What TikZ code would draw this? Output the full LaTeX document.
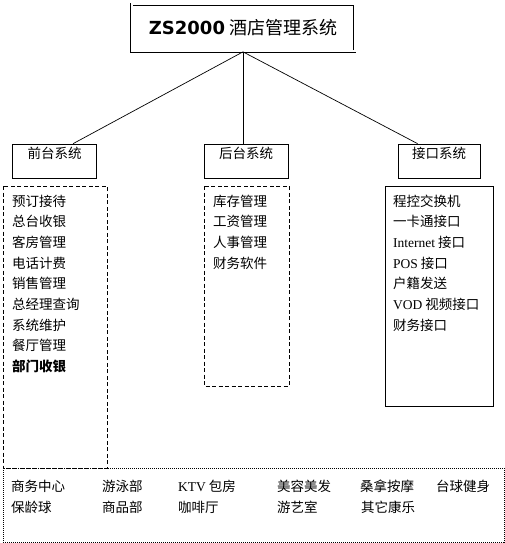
\documentclass[tikz,border=0pt]{standalone}
\usepackage{fontspec}
\setmainfont{Noto Sans CJK SC}
\newfontfamily\latim{Liberation Serif}
\newfontfamily\marca{DejaVu Sans}
\usepackage{tikz}
\usetikzlibrary{positioning}

\begin{document}
\begin{tikzpicture}[x=1pt, y=-1pt, every node/.style={font=\fontsize{13.5}{20.7}\selectfont}]
    \tikzstyle{sistema}=[rectangle, draw, line width=0.7pt, minimum width=84pt,
      text height=14pt, text depth=20pt, inner sep=0pt]
    \tikzstyle{item}=[anchor=base west, inner sep=0pt]
    \tikzstyle{tracos}=[line width=0.7pt, dash pattern=on 4pt off 2.5pt]
    \tikzstyle{pontos}=[line width=0.7pt, dash pattern=on 1pt off 1pt]
    \useasboundingbox (0,0) rectangle (505,543);
    % titulo
    \node[draw, line width=0.7pt, double, double distance=2pt, minimum width=223pt,
      minimum height=47pt, font=\fontsize{18}{20}\selectfont] (title) at (243,28)
      {{\marca\bfseries ZS2000} 酒店管理系统};
    % subsistemas
    \node[sistema] (front) at (54.5,161) {前台系统};
    \node[sistema] (back) at (246,161) {后台系统};
    \node[sistema, minimum width=82pt] (iface) at (439,161) {接口系统};
    \draw[line width=0.7pt] (title.south) -- (front.43);
    \draw[line width=0.7pt] (title.south) -- (title.south |- back.north);
    \draw[line width=0.7pt] (title.south) -- (iface.141);
    % caixas
    \draw[tracos] (3,186) rectangle (107,468);
    \draw[tracos] (204,186) rectangle (289,386);
    \draw[line width=0.7pt] (385,186) rectangle (493,406);
    \draw[pontos] (3,468) rectangle (504,542);
    % listas
    \foreach \t [count=\i from 0] in {预订接待, 总台收银, 客房管理, 电话计费, 销售管理,
      总经理查询, 系统维护, 餐厅管理, \textbf{部门收银}}
      \node[item] (f\i) at (12,206+20.7*\i) {\t};
    \foreach \t [count=\i from 0] in {库存管理, 工资管理, 人事管理, 财务软件}
      \node[item] (b\i) at (213,206+20.7*\i) {\t};
    \foreach \t [count=\i from 0] in {程控交换机, 一卡通接口, {\latim Internet} 接口,
      {\latim POS} 接口, 户籍发送, {\latim VOD} 视频接口, 财务接口}
      \node[item] (j\i) at (393,206+20.7*\i) {\t};
    %康乐
    \node[item] (k1) at (11,491) {商务中心};
    \node[item] (k2) at (102,491) {游泳部};
    \node[item] (k3) at (178,491) {{\latim KTV} 包房};
    \node[item] (k4) at (277,491) {美容美发};
    \node[item] (k5) at (360,491) {桑拿按摩};
    \node[item] (k6) at (436,491) {台球健身};
    \node[item] (k7) at (11,512) {保龄球};
    \node[item] (k8) at (102,512) {商品部};
    \node[item] (k9) at (178,512) {咖啡厅};
    \node[item] (k10) at (277,512) {游艺室};
    \node[item] (k11) at (361,512) {其它康乐};
  \end{tikzpicture}
\end{document}
